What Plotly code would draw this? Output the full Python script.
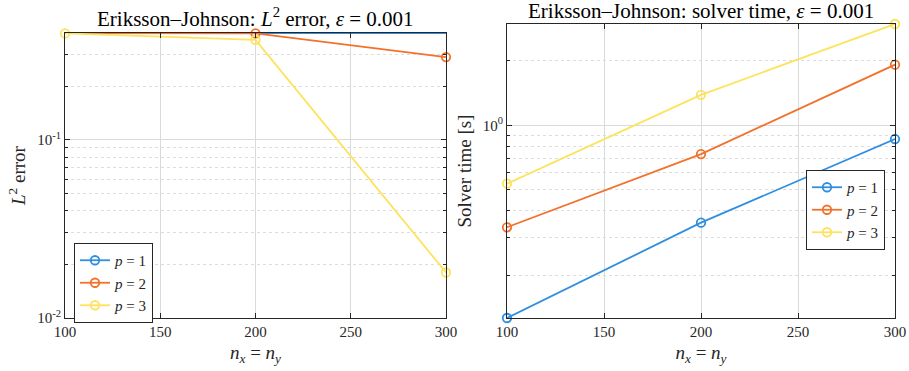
import numpy as np
import plotly.graph_objects as go

# Grid sizes
n = [100, 200, 300]

# L2 error per polynomial degree
err_p1 = [0.397, 0.397, 0.397]
err_p2 = [0.397, 0.395, 0.291]
err_p3 = [0.395, 0.363, 0.0180]

# Solver time [s] per polynomial degree
time_p1 = [0.1265, 0.352, 0.864]
time_p2 = [0.335, 0.735, 1.92]
time_p3 = [0.535, 1.388, 2.97]

labels = ["<i>p</i> = 1", "<i>p</i> = 2", "<i>p</i> = 3"]
colors = ["#2F8EDF", "#F2712C", "#FDE35C"]

x_ticks = [100, 150, 200, 250, 300]
err_ticks = [1e-2, 1e-1]
err_ticktext = ["10<sup>-2</sup>", "10<sup>-1</sup>"]
time_ticks = [1e0]
time_ticktext = ["10<sup>0</sup>"]

FONT = "'Liberation Serif', 'Times New Roman', Times, serif"
INK = "#262626"
W, H = 909, 371


def minor_log(lo, hi):
    vals = []
    for e in range(int(np.floor(np.log10(lo))), int(np.ceil(np.log10(hi))) + 1):
        for d in range(2, 10):
            v = d * 10.0 ** e
            if lo < v < hi:
                vals.append(v)
    return vals


fig = go.Figure()

for ys, lab, c in zip([err_p1, err_p2, err_p3], labels, colors):
    fig.add_trace(go.Scatter(
        x=n, y=ys, name=lab, mode="lines+markers",
        line=dict(color=c, width=1.8),
        marker=dict(symbol="circle-open", size=8.5, line=dict(width=1.8, color=c)),
        cliponaxis=False, xaxis="x", yaxis="y", legend="legend"))

for ys, lab, c in zip([time_p1, time_p2, time_p3], labels, colors):
    fig.add_trace(go.Scatter(
        x=n, y=ys, name=lab, mode="lines+markers",
        line=dict(color=c, width=1.8),
        marker=dict(symbol="circle-open", size=8.5, line=dict(width=1.8, color=c)),
        cliponaxis=False, xaxis="x2", yaxis="y2", legend="legend2"))

err_lo = 1e-2
err_hi = max(err_p1 + err_p2 + err_p3)
t_lo = min(time_p1 + time_p2 + time_p3)
t_hi = max(time_p1 + time_p2 + time_p3)


def xaxis_style(domain, anchor):
    return dict(
        domain=domain, anchor=anchor, range=[100, 300], automargin=False,
        tickmode="array", tickvals=x_ticks,
        ticks="inside", ticklen=5, tickcolor=INK,
        showline=True, linecolor=INK, linewidth=1, mirror="ticks",
        showgrid=True, gridcolor="#DADADA", gridwidth=1,
        zeroline=False,
        tickfont=dict(family=FONT, size=15, color=INK),
        title=dict(text="<i>n<sub>x</sub></i> = <i>n<sub>y</sub></i>",
                   font=dict(family=FONT, size=19, color=INK), standoff=6),
    )


def yaxis_style(domain, anchor, lo, hi, tv, tt, title):
    return dict(
        domain=domain, anchor=anchor, type="log", automargin=False,
        range=[np.log10(lo), np.log10(hi)],
        tickmode="array", tickvals=tv, ticktext=tt,
        ticks="inside", ticklen=5, tickcolor=INK,
        showline=True, linecolor=INK, linewidth=1, mirror="ticks",
        showgrid=True, gridcolor="#DADADA", gridwidth=1,
        zeroline=False,
        minor=dict(tickmode="array", tickvals=minor_log(lo, hi),
                   ticks="inside", ticklen=3, tickcolor=INK,
                   showgrid=True, gridcolor="#DDDDDD", griddash="dot", gridwidth=1),
        tickfont=dict(family=FONT, size=15, color=INK),
        title=dict(text=title, font=dict(family=FONT, size=19, color=INK), standoff=6),
    )


legend_style = dict(
    bgcolor="white", bordercolor=INK, borderwidth=1,
    font=dict(family=FONT, size=15, color=INK),
    tracegroupgap=0, itemwidth=30,
    xanchor="left", yanchor="top",
)

fig.update_layout(
    width=W, height=H,
    margin=dict(l=0, r=0, t=0, b=0, autoexpand=False),
    paper_bgcolor="white", plot_bgcolor="white",
    showlegend=True,
    xaxis=xaxis_style([65 / W, 446 / W], "y"),
    yaxis=yaxis_style([1 - 318 / H, 1 - 33 / H], "x", err_lo, err_hi,
                      err_ticks, err_ticktext, "<i>L</i><sup>2</sup> error"),
    xaxis2=xaxis_style([507 / W, 895 / W], "y2"),
    yaxis2=yaxis_style([1 - 318 / H, 1 - 24 / H], "x2", t_lo, t_hi,
                       time_ticks, time_ticktext, "Solver time [s]"),
    legend=dict(x=74 / W, y=1 - 243 / H, **legend_style),
    legend2=dict(x=806 / W, y=1 - 170 / H, **legend_style),
    annotations=[
        dict(text="Eriksson–Johnson: <i>L</i><sup>2</sup> error, <i>ε</i> = 0.001",
             x=255.5 / W, y=1 - 18 / H, xref="paper", yref="paper",
             xanchor="center", yanchor="middle", showarrow=False,
             font=dict(family=FONT, size=21, color="black")),
        dict(text="Eriksson–Johnson: solver time, <i>ε</i> = 0.001",
             x=701 / W, y=1 - 11 / H, xref="paper", yref="paper",
             xanchor="center", yanchor="middle", showarrow=False,
             font=dict(family=FONT, size=21, color="black")),
    ],
)

fig.write_html("out.html")
